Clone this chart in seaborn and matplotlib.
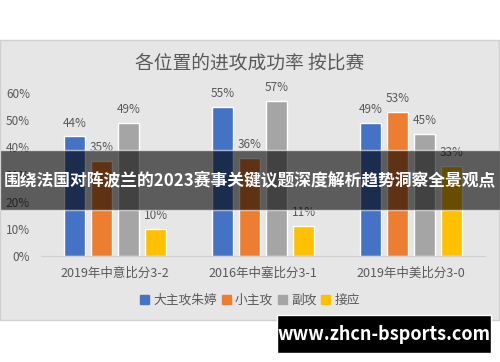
import seaborn as sns
import matplotlib.pyplot as plt
import pandas as pd
from matplotlib.patches import Rectangle

# data
matches = ["2019年中意比分3-2", "2016年中塞比分3-1", "2019年中美比分3-0"]
positions = ["大主攻朱婷", "小主攻", "副攻", "接应"]
zhu_ting = [0.44, 0.55, 0.49]
xiao_zhugong = [0.35, 0.36, 0.53]
fugong = [0.49, 0.57, 0.45]
jieying = [0.10, 0.11, 0.33]
y_ticks = [0, 0.1, 0.2, 0.3, 0.4, 0.5, 0.6]

colors = ["#4472C4", "#ED7D31", "#A5A5A5", "#FFC000"]
txt = "#595959"

sns.set_style("white")
plt.rcParams['font.family'] = ['Noto Sans CJK SC', 'DejaVu Sans']

rows = []
for pos, vals in zip(positions, [zhu_ting, xiao_zhugong, fugong, jieying]):
    for m, v in zip(matches, vals):
        rows.append({"比赛": m, "位置": pos, "成功率": v})
df = pd.DataFrame(rows)

fig = plt.figure(figsize=(5, 3.62), dpi=100)
fig.patch.set_facecolor("white")

# grey chart panel
fig.patches.append(Rectangle((0.0, 1 - 320 / 362), 0.998, 280 / 362, transform=fig.transFigure,
                             facecolor="#E7E6E6", edgecolor="#D0D0D0", lw=1, zorder=-5))

ax = fig.add_axes([0.082, 1 - 256 / 362, 0.888, 163 / 362])
ax.set_zorder(1)
ax.set_facecolor("none")
sns.barplot(data=df, x="比赛", y="成功率", hue="位置", palette=colors,
            width=0.73, gap=0.2, ax=ax, legend=False, saturation=1, errorbar=None)

for cont in ax.containers:
    ax.bar_label(cont, labels=[f"{b.get_height()*100:.0f}%" for b in cont],
                 padding=5, fontsize=8.5, color=txt)

ax.set_ylim(0, 0.6)
ax.set_xlim(-0.5, 2.5)
ax.set_yticks(y_ticks)
ax.set_yticklabels([f"{int(round(t*100))}%" for t in y_ticks], fontsize=8.5, color=txt)
ax.set_xticks(range(3))
ax.set_xticklabels(matches, fontsize=9, color=txt)
ax.set_xlabel("")
ax.set_ylabel("")
for s in ["left", "right", "top"]:
    ax.spines[s].set_visible(False)
ax.spines["bottom"].set_color("#D0D0D0")
ax.set_xticks([-0.5, 0.5, 1.5, 2.5], minor=True)
ax.tick_params(axis="x", which="major", length=0, pad=8)
ax.tick_params(axis="x", which="minor", length=4, color="#D0D0D0")
ax.tick_params(axis="y", length=0, pad=8)

fig.text(0.5, 1 - 63 / 362, "各位置的进攻成功率 按比赛", ha="center", va="center",
         fontsize=13.5, color=txt)

handles = [Rectangle((0, 0), 1, 1, color=c) for c in colors]
fig.legend(handles, positions, loc="center", bbox_to_anchor=(0.5, 1 - 300 / 362), ncol=4,
           frameon=False, fontsize=9.2, labelcolor=txt, handlelength=0.7, handleheight=0.7,
           handletextpad=0.3, columnspacing=0.4)

# overlay banner
fig.patches.append(Rectangle((0, 1 - 210 / 362), 1, 60 / 362, transform=fig.transFigure,
                             facecolor="black", alpha=0.6, zorder=10))
fig.text(0.5, 1 - 181 / 362, "围绕法国对阵波兰的2023赛事关键议题深度解析趋势洞察全景观点",
         ha="center", va="center", fontsize=12.1, color="white", fontweight="bold", zorder=11)

# watermark
fig.patches.append(Rectangle((277 / 500, 1 - 353 / 362), 214 / 500, 38 / 362,
                             transform=fig.transFigure, facecolor="black", zorder=10))
fig.text(384 / 500, 1 - 334 / 362, "www.zhcn-bsports.com", ha="center", va="center",
         fontsize=13, color="white", fontweight="bold", zorder=11)

fig.savefig("out.png", dpi=100)
